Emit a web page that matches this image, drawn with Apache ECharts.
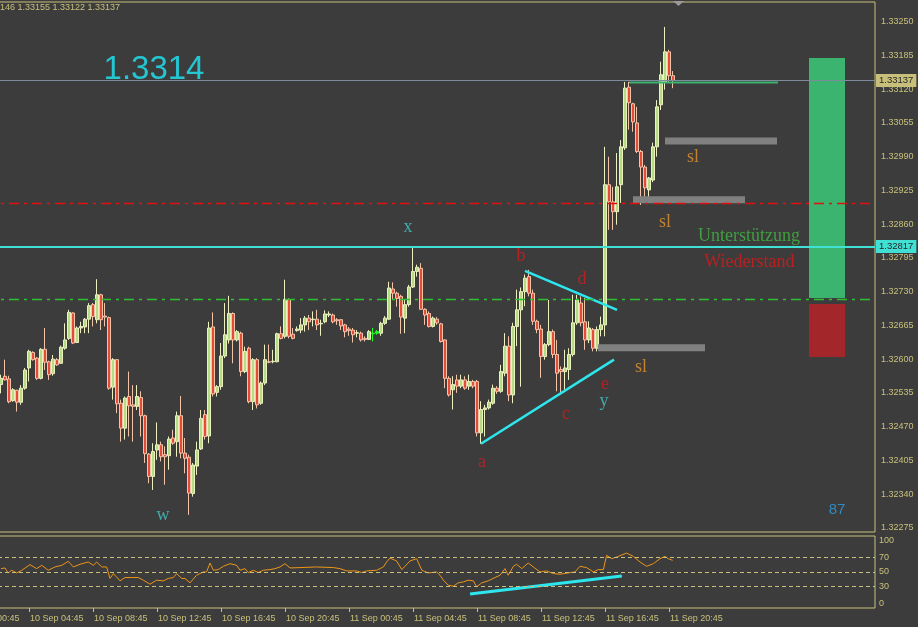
<!DOCTYPE html>
<html><head><meta charset="utf-8">
<script src="https://cdn.jsdelivr.net/npm/echarts@6/dist/echarts.min.js"></script>
<style>html,body{margin:0;padding:0;background:#3c3c3c;}#c{width:918px;height:627px;}</style>
</head><body><div id="c"></div>
<script>
// ---------- data ----------
const slotCount = 228;            // 15-minute slots starting 10 Sep 00:45
const firstCandleSlot = 9;        // first visible candle = 10 Sep 03:00
const opens = [
1.32551,1.32567,1.32562,1.32520,1.32540,1.32517,1.32544,1.32583,1.32613,1.32602,
1.32563,1.32619,1.32595,1.32572,1.32599,1.32592,1.32621,1.32640,1.32689,1.32632,
1.32660,1.32662,1.32677,1.32705,1.32676,1.32724,1.32683,1.32680,1.32546,1.32599,
1.32515,1.32467,1.32528,1.32512,1.32509,1.32526,1.32491,1.32417,1.32374,1.32425,
1.32435,1.32416,1.32414,1.32448,1.32441,1.32491,1.32419,1.32411,1.32341,1.32394,
1.32427,1.32493,1.32452,1.32662,1.32536,1.32547,1.32606,1.32637,1.32688,1.32637,
1.32650,1.32576,1.32621,1.32518,1.32599,1.32515,1.32554,1.32595,1.32595,1.32595,
1.32649,1.32644,1.32715,1.32648,1.32655,1.32656,1.32666,1.32679,1.32676,1.32677,
1.32668,1.32672,1.32685,1.32685,1.32676,1.32676,1.32666,1.32658,1.32656,1.32650,
1.32650,1.32640,1.32638,1.32649,1.32650,1.32650,1.32669,1.32677,1.32735,1.32727,
1.32721,1.32679,1.32705,1.32739,1.32769,1.32775,1.32696,1.32688,1.32663,1.32677,
1.32668,1.32637,1.32563,1.32541,1.32560,1.32548,1.32560,1.32548,1.32557,1.32557,
1.32458,1.32503,1.32506,1.32515,1.32544,1.32538,1.32573,1.32625,1.32531,1.32663,
1.32695,1.32730,1.32759,1.32727,1.32673,1.32658,1.32605,1.32628,1.32653,1.32609,
1.32580,1.32576,1.32580,1.32609,1.32670,1.32708,1.32672,1.32637,1.32657,1.32621,
1.32657,1.32666,1.32936,1.32903,1.32884,1.32936,1.33007,1.33124,1.33092,1.33055,
1.33000,1.32970,1.32926,1.32945,1.33009,1.33090,1.33134,1.33192,1.33146];
const highs = [
1.32570,1.32599,1.32568,1.32544,1.32541,1.32550,1.32583,1.32618,1.32615,1.32604,
1.32621,1.32660,1.32597,1.32608,1.32602,1.32626,1.32669,1.32695,1.32690,1.32663,
1.32672,1.32679,1.32708,1.32708,1.32754,1.32726,1.32708,1.32682,1.32602,1.32600,
1.32522,1.32528,1.32576,1.32550,1.32550,1.32538,1.32493,1.32419,1.32438,1.32478,
1.32441,1.32432,1.32451,1.32464,1.32499,1.32529,1.32448,1.32416,1.32400,1.32441,
1.32502,1.32502,1.32672,1.32690,1.32550,1.32631,1.32708,1.32722,1.32690,1.32656,
1.32653,1.32624,1.32624,1.32602,1.32602,1.32557,1.32628,1.32628,1.32618,1.32651,
1.32663,1.32753,1.32717,1.32660,1.32663,1.32679,1.32683,1.32685,1.32692,1.32695,
1.32676,1.32694,1.32692,1.32688,1.32679,1.32677,1.32668,1.32662,1.32660,1.32656,
1.32653,1.32644,1.32656,1.32660,1.32656,1.32672,1.32683,1.32749,1.32748,1.32730,
1.32724,1.32714,1.32743,1.32814,1.32782,1.32785,1.32698,1.32692,1.32682,1.32681,
1.32670,1.32638,1.32567,1.32567,1.32570,1.32570,1.32567,1.32570,1.32560,1.32560,
1.32519,1.32512,1.32522,1.32551,1.32548,1.32589,1.32650,1.32644,1.32670,1.32734,
1.32738,1.32763,1.32772,1.32734,1.32676,1.32666,1.32631,1.32714,1.32657,1.32637,
1.32586,1.32618,1.32621,1.32724,1.32724,1.32721,1.32718,1.32673,1.32660,1.32663,
1.32682,1.33009,1.32990,1.32932,1.32997,1.33022,1.33134,1.33134,1.33094,1.33086,
1.33003,1.32974,1.32951,1.33017,1.33099,1.33173,1.33240,1.33196,1.33155];
const lows = [
1.32534,1.32559,1.32515,1.32518,1.32499,1.32512,1.32541,1.32557,1.32597,1.32560,
1.32561,1.32579,1.32560,1.32568,1.32587,1.32591,1.32618,1.32637,1.32629,1.32631,
1.32650,1.32650,1.32650,1.32663,1.32669,1.32656,1.32663,1.32541,1.32522,1.32496,
1.32441,1.32445,1.32451,1.32441,1.32502,1.32451,1.32400,1.32361,1.32348,1.32406,
1.32403,1.32358,1.32387,1.32435,1.32412,1.32409,1.32380,1.32300,1.32335,1.32377,
1.32425,1.32445,1.32438,1.32528,1.32528,1.32541,1.32602,1.32630,1.32592,1.32634,
1.32567,1.32573,1.32515,1.32502,1.32505,1.32512,1.32550,1.32592,1.32592,1.32594,
1.32638,1.32640,1.32640,1.32638,1.32653,1.32650,1.32653,1.32656,1.32663,1.32656,
1.32645,1.32669,1.32681,1.32669,1.32666,1.32656,1.32642,1.32645,1.32632,1.32642,
1.32634,1.32634,1.32637,1.32634,1.32647,1.32645,1.32666,1.32676,1.32714,1.32701,
1.32649,1.32650,1.32701,1.32737,1.32759,1.32695,1.32666,1.32661,1.32661,1.32666,
1.32632,1.32544,1.32528,1.32503,1.32535,1.32544,1.32541,1.32541,1.32544,1.32451,
1.32437,1.32451,1.32503,1.32512,1.32533,1.32535,1.32567,1.32519,1.32515,1.32625,
1.32547,1.32702,1.32721,1.32666,1.32650,1.32564,1.32599,1.32625,1.32602,1.32538,
1.32535,1.32541,1.32560,1.32605,1.32666,1.32663,1.32618,1.32631,1.32615,1.32615,
1.32644,1.32644,1.32849,1.32849,1.32859,1.32901,1.33003,1.33042,1.33038,1.32997,
1.32897,1.32913,1.32907,1.32941,1.32990,1.33080,1.33119,1.33132,1.33122];
const closes = [
1.32563,1.32560,1.32518,1.32541,1.32517,1.32544,1.32579,1.32615,1.32599,1.32563,
1.32619,1.32594,1.32570,1.32600,1.32589,1.32623,1.32637,1.32690,1.32631,1.32660,
1.32663,1.32677,1.32703,1.32682,1.32724,1.32676,1.32681,1.32544,1.32599,1.32514,
1.32467,1.32525,1.32510,1.32509,1.32528,1.32491,1.32418,1.32374,1.32422,1.32435,
1.32412,1.32412,1.32446,1.32438,1.32491,1.32419,1.32409,1.32342,1.32396,1.32425,
1.32486,1.32451,1.32660,1.32533,1.32547,1.32606,1.32647,1.32688,1.32637,1.32653,
1.32576,1.32615,1.32518,1.32599,1.32512,1.32554,1.32599,1.32594,1.32596,1.32649,
1.32640,1.32715,1.32644,1.32640,1.32658,1.32666,1.32679,1.32672,1.32677,1.32666,
1.32669,1.32687,1.32687,1.32672,1.32674,1.32664,1.32653,1.32655,1.32647,1.32651,
1.32637,1.32638,1.32653,1.32650,1.32653,1.32669,1.32679,1.32737,1.32727,1.32717,
1.32681,1.32705,1.32739,1.32769,1.32777,1.32696,1.32685,1.32663,1.32679,1.32670,
1.32634,1.32563,1.32531,1.32551,1.32548,1.32560,1.32544,1.32557,1.32548,1.32458,
1.32503,1.32506,1.32517,1.32544,1.32538,1.32576,1.32625,1.32531,1.32663,1.32695,
1.32730,1.32756,1.32727,1.32673,1.32657,1.32605,1.32628,1.32653,1.32609,1.32573,
1.32576,1.32583,1.32609,1.32670,1.32714,1.32670,1.32637,1.32660,1.32621,1.32657,
1.32666,1.32936,1.32903,1.32884,1.32932,1.33009,1.33122,1.33094,1.33057,1.33000,
1.32970,1.32930,1.32949,1.33009,1.33086,1.33148,1.33192,1.33146,1.33137];
const highlightedCandles = [93, 94];   // drawn in bright green in the original

const priceTicks = [1.32275,1.32340,1.32405,1.32470,1.32535,1.32600,1.32665,1.32730,
                    1.32795,1.32860,1.32925,1.32990,1.33055,1.33120,1.33185,1.33250];
const timeTickLabels = ['10 Sep 00:45','10 Sep 04:45','10 Sep 08:45','10 Sep 12:45','10 Sep 16:45',
  '10 Sep 20:45','11 Sep 00:45','11 Sep 04:45','11 Sep 08:45','11 Sep 12:45','11 Sep 16:45','11 Sep 20:45'];
const oscTicks = [0, 30, 50, 70, 100];
const oscLevels = [30, 50, 70];

// horizontal levels
const bidPrice = 1.33137;
const redDashLevel = 1.32900;
const cyanLevel = 1.32817;
const greenDashLevel = 1.32715;

// segments: [slotStart, priceStart, slotEnd, priceEnd]
const trendLines = [[129, 1.32437, 162.25, 1.32599], [140, 1.32770, 163, 1.32695]];
const slBars = [[175, 1.33020, 203, 1.33020], [167, 1.32907, 195, 1.32907], [158.25, 1.32622, 185, 1.32622]];
const targetLine = [[166, 1.33133, 203.25, 1.33133]];
// zones: [slotStart, slotEnd, priceLow, priceHigh]
const supportZone = [211, 220, 1.32718, 1.33180];
const resistZone = [211, 220, 1.32604, 1.32706];

// oscillator (slot position, value)
const oscSlots = [9,10,10.8,11.7,12.9,14.2,16.25,17.9,19.2,20.8,22.5,24.2,25.8,27.1,28.75,30.8,32.1,32.9,34.2,35.4,
 36.25,37.1,38.75,40,41.7,43.3,44.6,46.25,47.9,49.6,50.8,52.1,52.9,54.2,55,56.25,57.9,59.6,60.4,61.25,62.1,63.3,
 64.6,66.25,67.9,68.75,70,70.8,72.1,73.3,74.6,76.25,77.5,78.75,80,81.25,83.75,87.9,92.1,93.75,95.4,97.9,99.2,100.4,
 102.9,104.6,105.4,106.25,107.9,109.2,111.25,112.9,114.2,115.8,117.9,118.75,119.6,120.8,122.1,123.3,124.6,125.8,
 127.1,127.9,129.2,130.8,132.5,133.75,135,135.8,137.1,137.9,139.2,140.8,142.1,143.75,145.4,147.1,148.75,150.8,
 152.5,153.75,155.4,157.1,158.3,159.6,160.4,161.7,162.9,165.4,167.1,168.75,170.4,172.1,173.75,175,175.8,176.9];
const oscValues = [54.7,55.6,48.7,52.4,48.7,52.4,60.2,54.7,59.3,52.4,57.0,59.3,64.8,57.0,60.7,63.9,59.3,63.9,57.0,57.0,
 41.0,47.8,37.7,42.3,42.3,42.3,38.6,33.1,38.6,37.7,41.0,42.3,47.8,41.0,41.0,34.9,45.5,50.1,50.1,62.5,52.4,53.3,
 57.9,61.6,59.3,52.4,54.7,49.2,52.4,49.2,52.4,53.3,54.7,57.0,61.6,55.6,56.1,57.0,56.1,54.7,51.5,51.5,49.2,51.5,
 52.4,57.0,63.9,69.4,65.3,53.3,65.3,68.5,52.4,48.7,50.1,45.5,38.6,31.7,30.3,34.9,36.3,38.6,
 37.7,29.4,34.9,37.7,42.3,45.5,54.7,45.5,57.9,60.7,54.7,62.5,57.0,50.1,51.5,47.8,46.9,48.7,
 50.1,57.9,56.1,50.1,53.3,53.3,73.1,68.5,70.8,76.3,71.7,63.9,57.9,61.6,68.5,71.7,68.5,66.2];
const oscTrend = [[126.25, 19.3], [164.2, 44.6]];

// annotations
const annotTexts  = ['1.3314','x','w','y','a','b','c','d','e','sl','sl','sl','Unterstützung','Wiederstand','87'];
const annotSlots  = [47.25,110.75,49.5,159.75,129.25,139,150.25,154.25,160,182,175,169,196,196.1,218];
const annotPrices = [1.33157,1.32855,1.32300,1.32518,1.32402,1.32799,1.32493,1.32753,1.32551,1.32988,1.32864,1.32585,1.32837,1.32787,1.32310];
const annotKinds  = ['big','wave','wave','wave','abc','abc','abc','abc','abc','sl','sl','sl','sup','res','num'];

// ---------- styles ----------
const AX = '#c8c07c';
const SANS = 'Liberation Sans';
const SERIF = 'Liberation Serif';
const kindStyle = {
  big:  {color:'#1ee8f6', fontSize:33, fontFamily:SANS},
  wave: {color:'#45c6c6', fontSize:18, fontFamily:SERIF},
  abc:  {color:'#d41c1c', fontSize:18, fontFamily:SERIF},
  sl:   {color:'#e3922a', fontSize:18, fontFamily:SERIF},
  sup:  {color:'#40b840', fontSize:18, fontFamily:SERIF},
  res:  {color:'#d81a1a', fontSize:18, fontFamily:SERIF},
  num:  {color:'#2a9fe6', fontSize:15, fontFamily:SANS}
};

function slotLabel(j){
  const t = 45 + j*15;
  const day = 10 + Math.floor(t/1440);
  const m = t % 1440;
  return day + ' Sep ' + String(Math.floor(m/60)).padStart(2,'0') + ':' + String(m%60).padStart(2,'0');
}
const cats = [];
for (let j = 0; j < slotCount; j++) cats.push(slotLabel(j));

const candleData = cats.map((_, j) => {
  const k = j - firstCandleSlot;
  if (k < 0 || k >= opens.length) return '-';
  const v = [opens[k], closes[k], lows[k], highs[k]];
  if (highlightedCandles.includes(k)) {
    return {value: v, itemStyle:{color:'#20ff20', color0:'#20ff20', borderColor:'#20ff20', borderColor0:'#20ff20'}};
  }
  return v;
});

const showTime = (i, v) => timeTickLabels.includes(v);

function segSeries(segs, color, width){
  return segs.map(s => ({
    type:'line', xAxisIndex:1, yAxisIndex:0, symbol:'none', silent:true, animation:false,
    data:[[s[0], s[1]], [s[2], s[3]]],
    lineStyle:{color:color, width:width, cap:'butt'}
  }));
}

const last = opens.length - 1;
const headerText = opens[last].toFixed(5).slice(-3) + ' ' + highs[last].toFixed(5) + ' ' +
                   lows[last].toFixed(5) + ' ' + closes[last].toFixed(5);

const tag = (text, bg) => ({show:true, position:'end', distance:1, formatter:text, color:'#262626',
  backgroundColor:bg, padding:[2,3,1,3], fontSize:9.5, fontFamily:SANS});

const chart = echarts.init(document.getElementById('c'));
chart.setOption({
  backgroundColor:'#3c3c3c',
  animation:false,
  textStyle:{fontFamily:SANS},
  grid:[
    {left:-37, top:2, width:912, height:530, show:true, borderColor:AX, borderWidth:1,
     backgroundColor:'transparent', outerBoundsMode:'none', containLabel:false},
    {left:-37, top:536, width:912, height:72, show:true, borderColor:AX, borderWidth:1,
     backgroundColor:'transparent', outerBoundsMode:'none', containLabel:false}
  ],
  xAxis:[
    {type:'category', gridIndex:0, data:cats, show:false, boundaryGap:true},
    {type:'value', gridIndex:0, min:-0.5, max:slotCount-0.5, show:false},
    {type:'category', gridIndex:1, data:cats, boundaryGap:true,
      axisLine:{show:false},
      axisTick:{show:true, alignWithLabel:true, interval:showTime, length:4, lineStyle:{color:AX}},
      axisLabel:{interval:showTime, align:'left', margin:6, color:AX, fontSize:9, fontFamily:SANS, padding:[0,0,0,1]},
      splitLine:{show:false}},
    {type:'value', gridIndex:1, min:-0.5, max:slotCount-0.5, show:false}
  ],
  yAxis:[
    {type:'value', gridIndex:0, position:'right', min:1.32267, max:1.33288,
      axisLine:{show:true, lineStyle:{color:AX}},
      axisTick:{show:true, length:3, customValues:priceTicks, lineStyle:{color:AX}},
      axisLabel:{customValues:priceTicks, formatter:v => v.toFixed(5), margin:6, color:AX, fontSize:9, fontFamily:SANS},
      splitLine:{show:false}},
    {type:'value', gridIndex:1, position:'right', min:0, max:100,
      axisLine:{show:true, lineStyle:{color:AX}},
      axisTick:{show:false},
      axisLabel:{customValues:oscTicks, margin:4, color:AX, fontSize:9, fontFamily:SANS,
                 verticalAlignMinLabel:'bottom', verticalAlignMaxLabel:'top'},
      splitLine:{show:false}}
  ],
  graphic:[
    {type:'text', left:0, top:3, style:{text:headerText, fill:AX, font:'9px "Liberation Sans"'}},
    {type:'polygon', shape:{points:[[673,1],[684,1],[678.5,6]]}, style:{fill:'#9a9a9a'}}
  ],
  series:[
    {type:'line', xAxisIndex:1, yAxisIndex:0, symbol:'none', silent:true, data:[],
      markArea:{silent:true, data:[
        [{xAxis:supportZone[0], yAxis:supportZone[3], itemStyle:{color:'#3bb46f'}}, {xAxis:supportZone[1], yAxis:supportZone[2]}],
        [{xAxis:resistZone[0], yAxis:resistZone[3], itemStyle:{color:'#a3262a'}}, {xAxis:resistZone[1], yAxis:resistZone[2]}]
      ]}
    },
    {type:'line', xAxisIndex:1, yAxisIndex:0, symbol:'none', silent:true, data:[], z:3,
      markLine:{symbol:['none','none'], silent:true, animation:false, precision:5, label:{show:false},
        data:[
          {yAxis:greenDashLevel, lineStyle:{color:'#2fc02f', width:1.4, type:[10,5,3,5], opacity:1}},
          {yAxis:redDashLevel, lineStyle:{color:'#e01010', width:1.4, type:[10,5,3,5], opacity:1}},
          {yAxis:cyanLevel, lineStyle:{color:'#40e0d4', width:2, type:'solid'}, label:tag(cyanLevel.toFixed(5), '#40e0d4')},
          {yAxis:bidPrice, lineStyle:{color:'#7d8b9c', width:1, type:'solid'}, label:tag(bidPrice.toFixed(5), '#c8c07a')}
        ]}
    },
    {type:'candlestick', xAxisIndex:0, yAxisIndex:0, data:candleData, barWidth:3,
      itemStyle:{color:'#b4dc86', color0:'#e64a38', borderColor:'#eef0c0', borderColor0:'#f4c4a8', borderWidth:1}
    },
    ...segSeries(slBars, '#808080', 7),
    ...segSeries(targetLine, '#3cb371', 2),
    ...segSeries(trendLines, '#2ee6ee', 2.5),
    {type:'scatter', xAxisIndex:1, yAxisIndex:0, symbolSize:1, silent:true, animation:false,
      itemStyle:{color:'transparent'},
      data: annotTexts.map((t, i) => ({
        value:[annotSlots[i], annotPrices[i]],
        label:Object.assign({show:true, position:'inside', formatter:t}, kindStyle[annotKinds[i]])
      }))
    },
    {type:'line', xAxisIndex:3, yAxisIndex:1, symbol:'none', silent:true,
      data: oscSlots.map((s, i) => [s, oscValues[i]]),
      lineStyle:{color:'#ee9418', width:1},
      markLine:{symbol:['none','none'], silent:true, label:{show:false},
        lineStyle:{color:AX, width:1, type:[4,3]},
        data: oscLevels.map(v => ({yAxis:v}))}
    },
    {type:'line', xAxisIndex:3, yAxisIndex:1, symbol:'none', silent:true,
      data: oscTrend, lineStyle:{color:'#2ee6ee', width:3}}
  ]
});
</script>
</body></html>
